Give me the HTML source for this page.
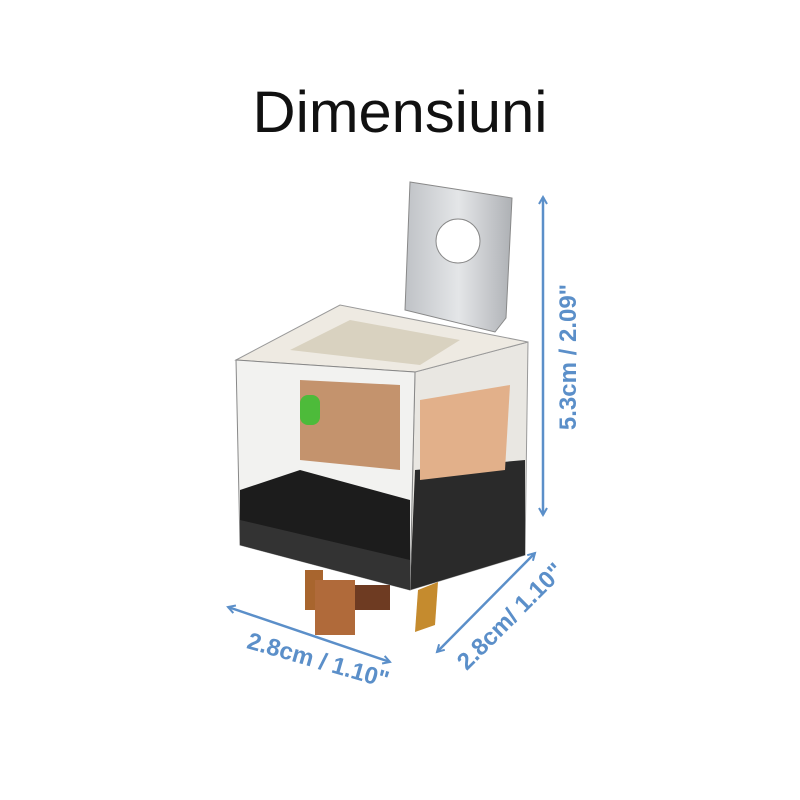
<!DOCTYPE html>
<html><head><meta charset="utf-8"><style>
html,body{margin:0;padding:0;background:#fff;width:800px;height:800px;overflow:hidden}
</style></head><body>
<svg width="800" height="800" viewBox="0 0 800 800" xmlns="http://www.w3.org/2000/svg">
<defs>
<marker id="a" markerWidth="10" markerHeight="10" refX="8" refY="5" orient="auto-start-reverse" markerUnits="userSpaceOnUse"><path d="M1,1 L8,5 L1,9" fill="none" stroke="#5b8fc9" stroke-width="2"/></marker>
<linearGradient id="m" x1="0" x2="1"><stop offset="0" stop-color="#bfc2c6"/><stop offset="0.5" stop-color="#e4e6e8"/><stop offset="1" stop-color="#aeb1b5"/></linearGradient>
</defs>
<text x="400" y="132" text-anchor="middle" font-family="Liberation Sans, sans-serif" font-size="58" fill="#111" textLength="295" lengthAdjust="spacingAndGlyphs">Dimensiuni</text>
<!-- tab -->
<path d="M410,182 L512,198 L506,318 L495,332 L405,310 Z" fill="url(#m)" stroke="#888" stroke-width="1"/>
<circle cx="458" cy="241" r="22" fill="#fff" stroke="#888"/>
<!-- right face -->
<path d="M415,372 L528,342 L525,555 L410,590 Z" fill="#e9e7e2" stroke="#999"/>
<path d="M415,470 L525,460 L525,555 L410,590 Z" fill="#2a2a2a"/>
<path d="M420,400 L510,385 L505,470 L420,480 Z" fill="#e2b08a"/>
<!-- top face -->
<path d="M236,360 L340,305 L528,342 L415,372 Z" fill="#eeeae2" stroke="#999"/>
<path d="M290,350 L350,320 L460,340 L420,365 Z" fill="#d9d2c0"/>
<!-- front face -->
<path d="M236,360 L415,372 L410,590 L240,545 Z" fill="#f2f2f0" stroke="#888"/>
<path d="M300,380 L400,385 L400,470 L300,460 Z" fill="#b87a4c" opacity="0.8"/>
<rect x="300" y="395" width="20" height="30" rx="8" fill="#4dbb3a"/>
<path d="M240,490 L300,470 L410,500 L410,590 L240,545 Z" fill="#1c1c1c"/>
<path d="M240,520 L410,560 L410,590 L240,545 Z" fill="#333"/>
<!-- terminals -->
<rect x="305" y="570" width="18" height="40" fill="#a8652e"/>
<rect x="315" y="580" width="40" height="55" fill="#b06a3a"/>
<rect x="355" y="585" width="35" height="25" fill="#6e3b22"/>
<path d="M418,590 L438,582 L435,625 L415,632 Z" fill="#c58b2e"/>
<!-- dimension arrows -->
<line x1="543" y1="197" x2="543" y2="515" stroke="#5b8fc9" stroke-width="2.5" marker-start="url(#a)" marker-end="url(#a)"/>
<line x1="228" y1="607" x2="390" y2="662" stroke="#5b8fc9" stroke-width="2.5" marker-start="url(#a)" marker-end="url(#a)"/>
<line x1="437" y1="652" x2="535" y2="553" stroke="#5b8fc9" stroke-width="2.5" marker-start="url(#a)" marker-end="url(#a)"/>
<g font-family="Liberation Sans, sans-serif" font-weight="bold" font-size="24" fill="#5b8fc9">
<text transform="translate(576,357) rotate(-90)" text-anchor="middle">5.3cm / 2.09"</text>
<text transform="translate(316,668) rotate(16)" text-anchor="middle">2.8cm / 1.10"</text>
<text transform="translate(516,622) rotate(-45)" text-anchor="middle">2.8cm/ 1.10"</text>
</g>
</svg>
</body></html>
